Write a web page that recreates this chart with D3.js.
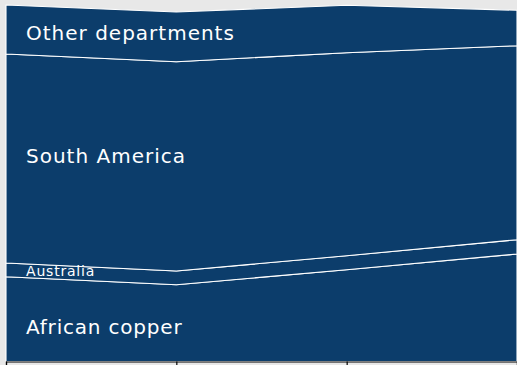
<!DOCTYPE html>
<html>
<head>
<meta charset="utf-8">
<script src="https://cdn.jsdelivr.net/npm/d3@7"></script>
<style>
  html, body { margin: 0; padding: 0; background: #e8e8e8; }
  svg { display: block; }
  text { font-family: "DejaVu Sans", sans-serif; }
</style>
</head>
<body>
<svg id="chart" width="517" height="365"></svg>
<script>
// Four time points along the x axis
const periods = ["P1", "P2", "P3", "P4"];

// Layer values, stacked bottom to top
const africanCopper    = [84.8, 76.8, 91.8, 107.5];
const australia        = [13.7, 13.7, 14.0, 14.3];
const southAmerica     = [209.0, 209.3, 203.0, 194.0];
const otherDepartments = [49.0, 49.7, 47.4, 35.4];

const seriesNames = ["African copper", "Australia", "South America", "Other departments"];
const seriesValues = [africanCopper, australia, southAmerica, otherDepartments];

const rows = periods.map((p, i) => {
  const r = { period: p };
  seriesNames.forEach((n, k) => { r[n] = seriesValues[k][i]; });
  return r;
});

const svg = d3.select("#chart");
const W = 517, H = 365;
const margin = { left: 6, right: 0, top: 5, bottom: 3.5 };

const x = d3.scalePoint()
  .domain(periods)
  .range([margin.left, W - margin.right]);

const stack = d3.stack().keys(seriesNames);
const layers = stack(rows);
const maxTotal = d3.max(layers[layers.length - 1], d => d[1]);

const y = d3.scaleLinear()
  .domain([0, maxTotal])
  .range([H - margin.bottom, margin.top]);

const area = d3.area()
  .x(d => x(d.data.period))
  .y0(d => y(d[0]))
  .y1(d => y(d[1]));

svg.append("g")
  .selectAll("path")
  .data(layers)
  .join("path")
  .attr("d", area)
  .attr("fill", "#0c3d6b")
  .attr("stroke", "#ffffff")
  .attr("stroke-width", 1.1)
  .attr("stroke-linejoin", "round");

// Bottom axis: ticks only
const axis = svg.append("g")
  .attr("transform", `translate(0,${H - margin.bottom})`)
  .call(d3.axisBottom(x).tickSize(6).tickFormat(""));
axis.select(".domain").attr("stroke", "#000").attr("stroke-width", 1.2);
axis.selectAll(".tick line").attr("stroke", "#000").attr("stroke-width", 1.2);

// Layer labels, placed inside each band near the left edge
const labelSpec = [
  { name: "African copper",    size: 20, spacing: 0.8, dy: 8 },
  { name: "Australia",         size: 14, spacing: 0.8, dy: 1 },
  { name: "South America",     size: 20, spacing: 1,   dy: -3 },
  { name: "Other departments", size: 20, spacing: 1,   dy: 3 }
];

svg.append("g")
  .selectAll("text")
  .data(layers)
  .join("text")
  .attr("x", 26)
  .attr("y", (d, i) => (y(d[0][0]) + y(d[0][1])) / 2 + labelSpec[i].dy)
  .attr("dominant-baseline", "central")
  .attr("fill", "#ffffff")
  .attr("font-size", (d, i) => labelSpec[i].size)
  .attr("letter-spacing", (d, i) => labelSpec[i].spacing)
  .text(d => d.key);
</script>
</body>
</html>
